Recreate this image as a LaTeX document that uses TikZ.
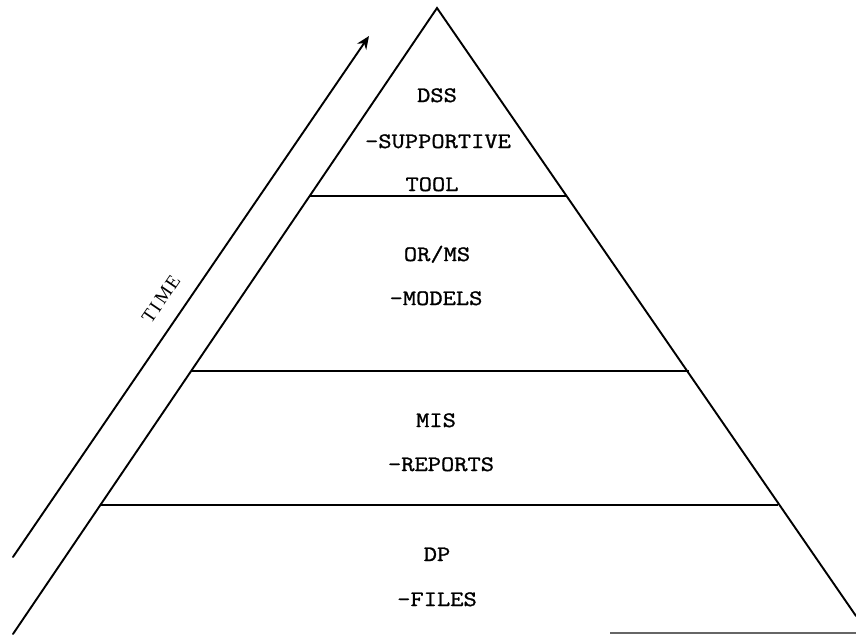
\documentclass[tikz,border=0pt]{standalone}
\usepackage{fontspec}
\usetikzlibrary{arrows.meta}
\newfontfamily\timefont[LetterSpace=12]{Liberation Serif}
\newfontfamily\typefont[FakeStretch=1.17,FakeBold=1.2]{Latin Modern Mono}
\begin{document}
\begin{tikzpicture}[x=1pt,y=-1pt,
  edge/.style={line width=1.9pt,line cap=round},
  tier/.style={line width=1.6pt},
  level/.style={font=\fontsize{22}{26}\selectfont\typefont,inner sep=0pt,anchor=base},
  timelabel/.style={font=\fontsize{19}{22}\selectfont\timefont,inner sep=0pt,rotate=55.7}]
  \useasboundingbox (0,0) rectangle (856,634);
  \clip (0,0) rectangle (856,634);

  % pyramid outline
  \coordinate (apex) at (437,8);
  \coordinate (bl) at (13,634);
  \coordinate (br) at (856,616);
  \draw[edge] (bl) -- (apex) -- (br);

  % tier dividers
  \coordinate (t1l) at (310,196);  \coordinate (t1r) at (566,196);
  \coordinate (t2l) at (191,371);  \coordinate (t2r) at (689,371);
  \coordinate (t3l) at (101,505);  \coordinate (t3r) at (778,505);
  \draw[tier] (t1l) -- (t1r);
  \draw[tier] (t2l) -- (t2r);
  \draw[tier] (t3l) -- (t3r);

  % faint base line
  \coordinate (b1) at (610,633);  \coordinate (b2) at (856,633);
  \draw[line width=1.4pt,black!60] (b1) -- (b2);

  % time arrow
  \coordinate (ts) at (13,557);
  \coordinate (te) at (369,36);
  \draw[edge,-{Stealth[length=13pt,width=11pt]}] (ts) -- (te);
  \node[timelabel] (time) at (161,299) {TIME};

  % tier labels
  \node[level] (dss)  at (437,102) {DSS};
  \node[level] (sup)  at (438,148) {-SUPPORTIVE};
  \node[level] (tool) at (432,191) {TOOL};
  \node[level] (orms) at (437,261) {OR/MS};
  \node[level] (mod)  at (436,305) {-MODELS};
  \node[level] (mis)  at (436,427) {MIS};
  \node[level] (rep)  at (441,471) {-REPORTS};
  \node[level] (dp)   at (437,561) {DP};
  \node[level] (fil)  at (437,606) {-FILES};
\end{tikzpicture}
\end{document}
